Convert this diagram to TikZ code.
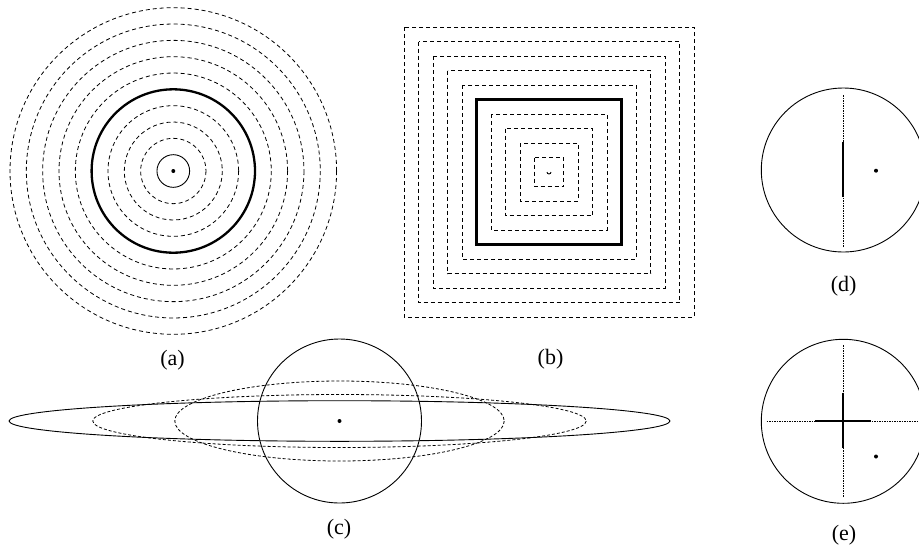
\documentclass[tikz,border=0pt]{standalone}
\usepackage{fontspec}
\setmainfont{Liberation Serif}
\begin{document}
\begin{tikzpicture}[x=1pt,y=-1pt,
 thinline/.style={line width=0.9pt},
 thickline/.style={line width=2.3pt},
 dasha/.style={line width=0.8pt,dash pattern=on 4pt off 3pt},
 dashc/.style={line width=0.8pt,dash pattern=on 3pt off 2pt},
 dashd/.style={line width=0.8pt,dash pattern=on 1.5pt off 1pt},
 lab/.style={font=\fontsize{22}{24}\selectfont, inner sep=0pt}]
\useasboundingbox (0,0) rectangle (919,547);
\clip (0,0) rectangle (919,547);
% (a)
\coordinate (ca) at (173.3,171);
\draw[thinline] (ca) circle[radius=16.33];
\foreach \k in {2,3,4,6,7,8,9,10} \draw[dasha] (ca) circle[radius=16.33*\k];
\draw[thickline] (ca) circle[radius=81.7];
\fill (ca) circle[radius=2];
\node[lab] (la) at (172.5,360.5) {(a)};
% (b)
\coordinate (cb) at (549,172);
\foreach \k in {1,2,3,4,6,7,8,9,10} \draw[dasha,shift={(cb)}] (-14.5*\k,-14.5*\k) rectangle (14.5*\k,14.5*\k);
\draw[thickline,shift={(cb)}] (-72.5,-72.5) rectangle (72.5,72.5);
\draw[thinline,shift={(cb)}] (-2,0) arc[start angle=180,end angle=0,radius=2];
\node[lab] (lb) at (550.5,359.5) {(b)};
% (c)
\coordinate (cc) at (339.5,421);
\draw[thinline] (cc) circle[radius=82];
\draw[dashc] (cc) ellipse[x radius=164.7, y radius=40];
\draw[dashc] (cc) ellipse[x radius=246.7, y radius=26.5];
\draw[thinline] (cc) ellipse[x radius=330.5, y radius=20.3];
\fill (cc) circle[radius=2];
\node[lab] (lc) at (339,529.5) {(c)};
% (d)
\coordinate (cd) at (843.3,170);
\coordinate (dt) at (843.3,95);
\coordinate (db) at (843.3,247);
\coordinate (dst) at (843.3,141.7);
\coordinate (dsb) at (843.3,197.3);
\draw[thinline] (cd) circle[radius=82];
\draw[dashd] (dt) -- (db);
\draw[thickline] (dst) -- (dsb);
\fill (876,170.7) circle[radius=2];
\node[lab] (ld) at (843.7,286) {(d)};
% (e)
\coordinate (ce) at (843.3,421.3);
\coordinate (et) at (843.3,345);
\coordinate (eb) at (843.3,497.5);
\coordinate (el) at (766.7,421.3);
\coordinate (er) at (920,421.3);
\coordinate (est) at (843.3,392.5);
\coordinate (esb) at (843.3,448);
\coordinate (esl) at (815,421.3);
\coordinate (esr) at (871,421.3);
\draw[thinline] (ce) circle[radius=82];
\draw[dashd] (et) -- (eb);
\draw[dashd] (el) -- (er);
\draw[thickline] (est) -- (esb);
\draw[thickline] (esl) -- (esr);
\fill (876,456.5) circle[radius=2];
\node[lab] (le) at (844,535) {(e)};
\end{tikzpicture}
\end{document}
